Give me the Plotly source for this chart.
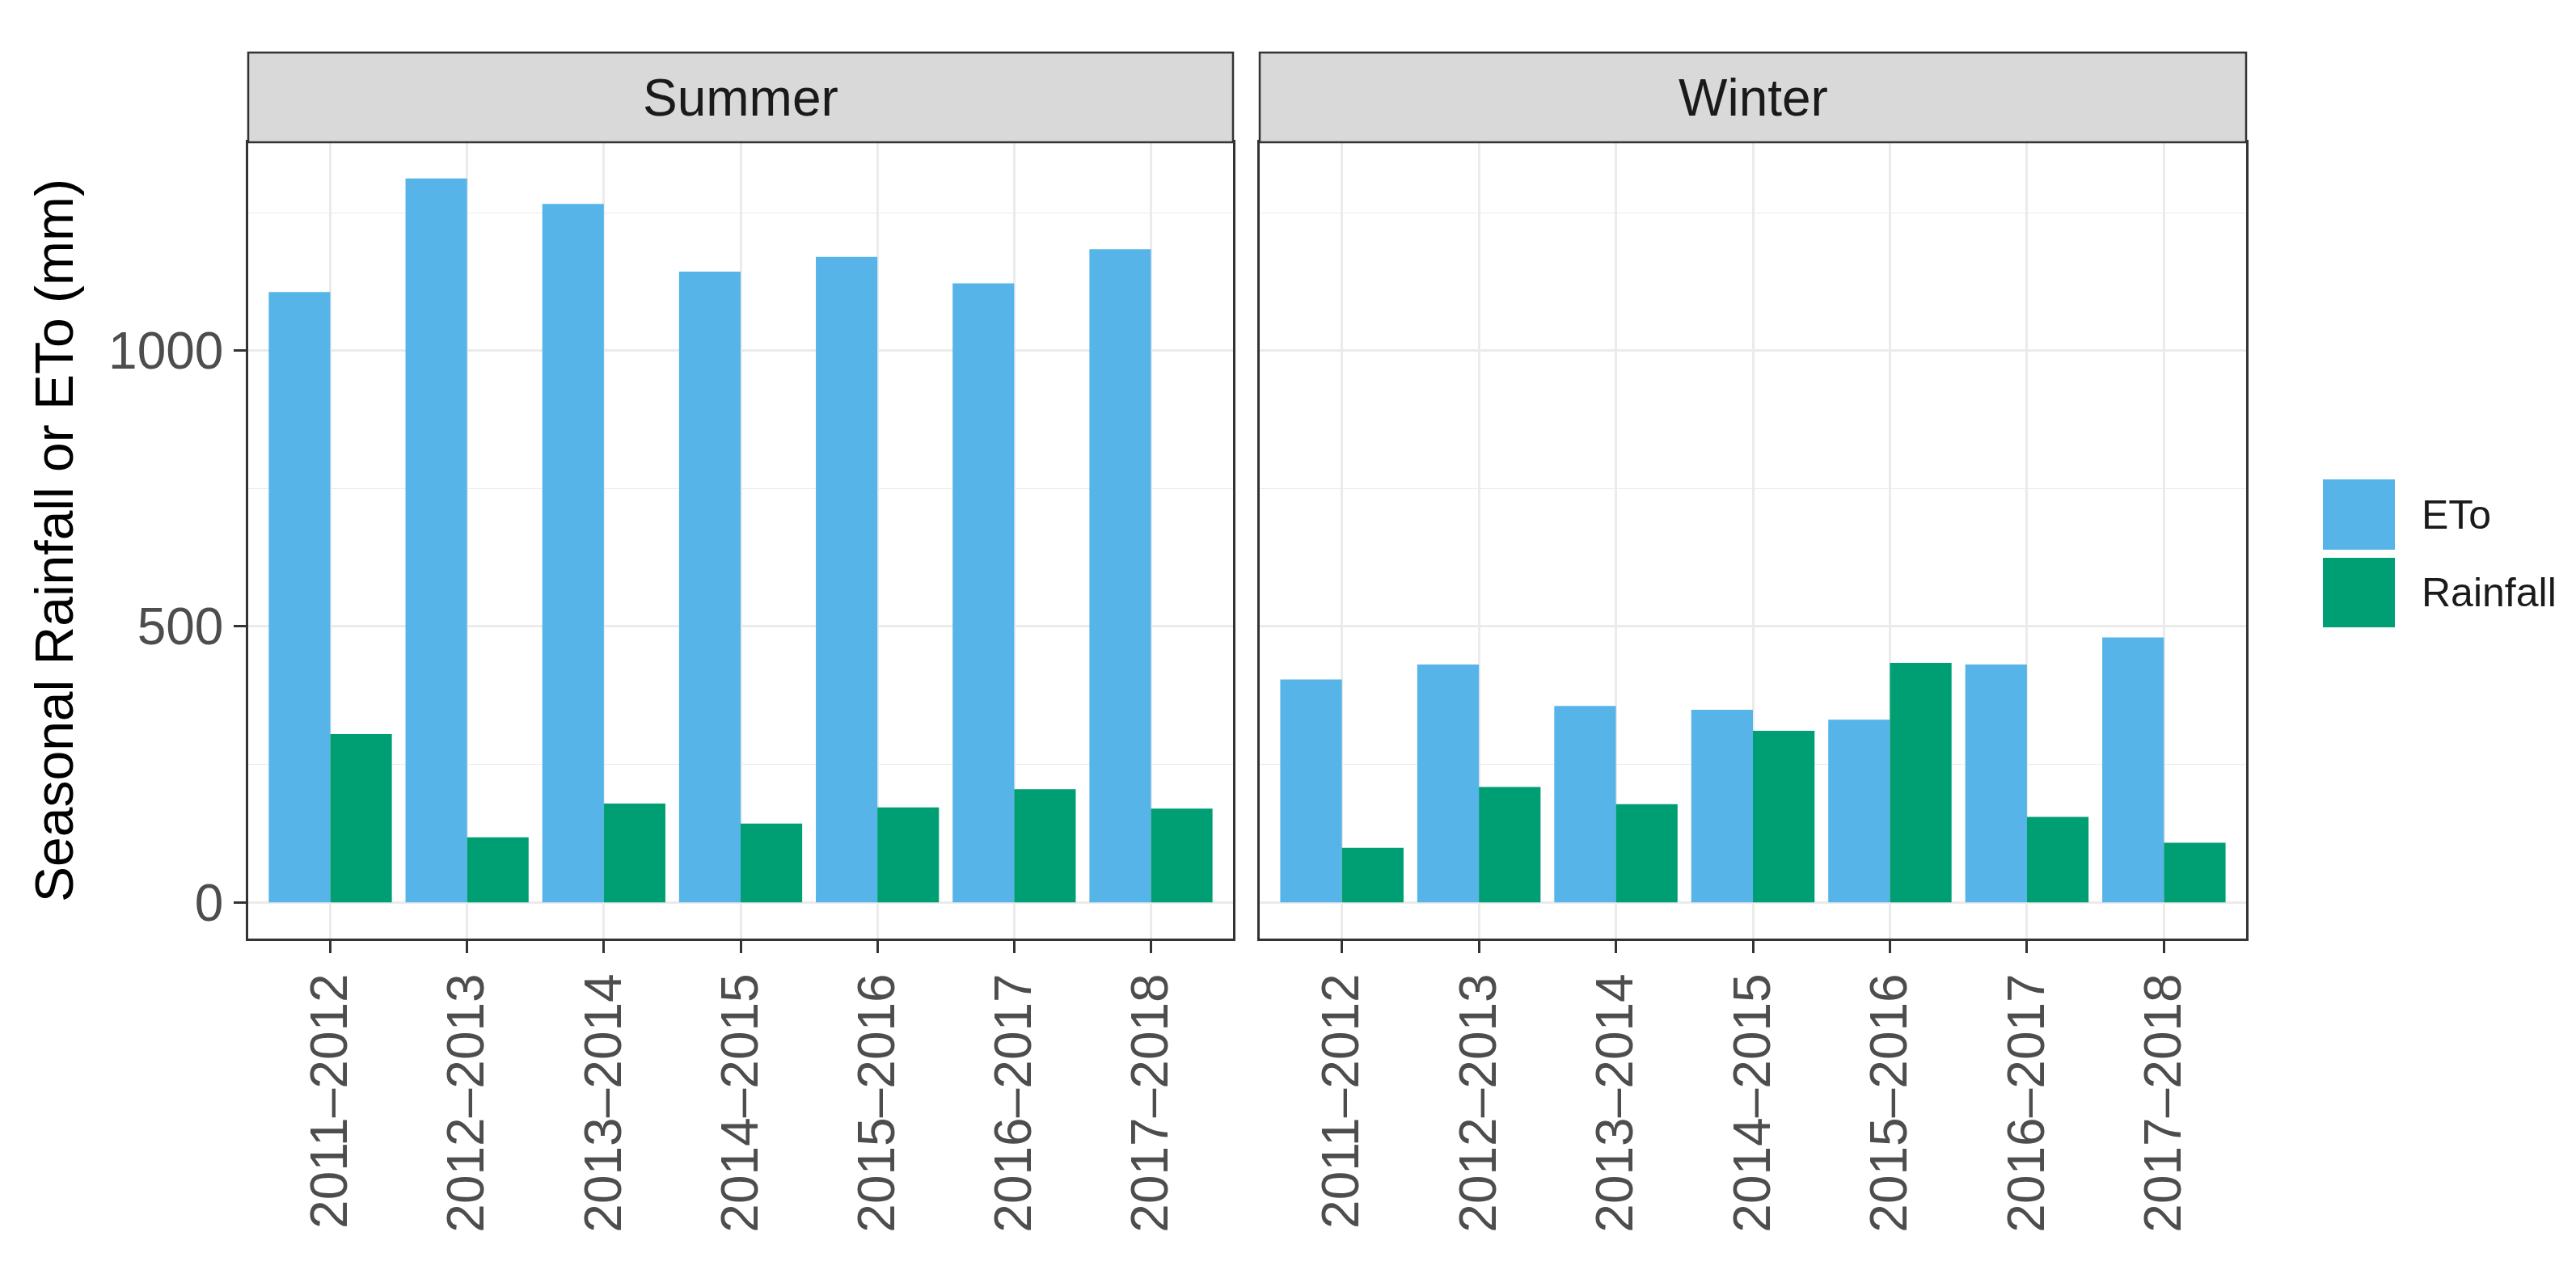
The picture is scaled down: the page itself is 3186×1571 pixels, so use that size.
import plotly.graph_objects as go

seasons = ["2011–2012", "2012–2013", "2013–2014", "2014–2015",
           "2015–2016", "2016–2017", "2017–2018"]
summer_eto = [1106, 1312, 1266, 1143, 1170, 1122, 1184]
summer_rain = [305, 118, 179, 143, 172, 205, 170]
winter_eto = [404, 431, 356, 349, 331, 431, 480]
winter_rain = [99, 209, 178, 311, 434, 155, 108]
panels = ["Summer", "Winter"]
series_names = ["ETo", "Rainfall"]
colors = {"ETo": "#56B4E9", "Rainfall": "#009E73"}

W, H = 3186, 1571
L, R, T, B = 299, 2770, 168, 1153
FONT = "Arial, Liberation Sans, sans-serif"

fig = go.Figure()
data = {
    ("Summer", "ETo"): summer_eto, ("Summer", "Rainfall"): summer_rain,
    ("Winter", "ETo"): winter_eto, ("Winter", "Rainfall"): winter_rain,
}
for i, p in enumerate(panels):
    ax = "" if i == 0 else "2"
    for s in series_names:
        fig.add_trace(go.Bar(
            x=seasons, y=data[(p, s)], name=s, legendgroup=s,
            showlegend=False, marker_color=colors[s], marker_line_width=0,
            xaxis="x" + ax, yaxis="y" + ax,
        ))

pw = R - L
ph = B - T
d1 = [0, (1517 - L) / pw]
d2 = [(1550 - L) / pw, 1]

grid = "#ebebeb"
line = "#333333"
common_x = dict(
    type="category", range=[-0.6, 6.6], showgrid=True, gridcolor=grid, gridwidth=2.5,
    showline=True, mirror=True, linecolor=line, linewidth=2.5,
    ticks="outside", ticklen=15, tickwidth=2.5, tickcolor=line,
    tickangle=-90, tickfont=dict(family=FONT, size=64, color="#4d4d4d"),
    zeroline=False,
)
common_y = dict(
    range=[-65.6, 1377.6], dtick=500, tick0=0, showgrid=True, gridcolor=grid,
    gridwidth=2.5, zeroline=False, showline=True, mirror=True, linecolor=line,
    linewidth=2.5,
    minor=dict(dtick=250, tick0=0, showgrid=True, gridcolor=grid, gridwidth=1.2),
)
fig.update_layout(
    width=W, height=H,
    margin=dict(l=L, r=W - R, t=T, b=H - B, autoexpand=False),
    paper_bgcolor="white", plot_bgcolor="white",
    barmode="group", bargap=0.1, bargroupgap=0,
    showlegend=False,
    xaxis=dict(domain=d1, anchor="y", **common_x),
    xaxis2=dict(domain=d2, anchor="y2", **common_x),
    yaxis=dict(domain=[0, 1], anchor="x", ticks="outside", ticklen=15,
               tickwidth=2.5, tickcolor=line,
               tickfont=dict(family=FONT, size=64, color="#4d4d4d"),
               title=dict(text="Seasonal Rainfall or ETo (mm)", standoff=22,
                          font=dict(family=FONT, size=66, color="black")),
               **common_y),
    yaxis2=dict(domain=[0, 1], anchor="x2", matches="y", showticklabels=False,
                ticks="", **common_y),
    font=dict(family=FONT),
)

# facet strips
strip_top = 1 + (T - 57) / ph
for p, d in zip(panels, [d1, d2]):
    fig.add_shape(type="rect", xref="paper", yref="paper",
                  x0=d[0], x1=d[1], y0=1, y1=strip_top,
                  fillcolor="#d9d9d9", line=dict(color=line, width=2.5), layer="above")
    fig.add_annotation(text=p, xref="paper", yref="paper",
                       x=(d[0] + d[1]) / 2, y=(1 + strip_top) / 2,
                       showarrow=False, xanchor="center", yanchor="middle",
                       font=dict(family=FONT, size=64, color="#1a1a1a"))

# legend keys
def px_x(v):
    return (v - L) / pw

def px_y(v):
    return (B - v) / ph

keys = [(585, 672), (682, 768)]
for s, (y0, y1) in zip(series_names, keys):
    fig.add_shape(type="rect", xref="paper", yref="paper",
                  x0=px_x(2865), x1=px_x(2954), y0=px_y(y1), y1=px_y(y0),
                  fillcolor=colors[s], line=dict(width=0))
    fig.add_annotation(text=s, xref="paper", yref="paper",
                       x=px_x(2985), y=px_y((y0 + y1) / 2),
                       showarrow=False, xanchor="left", yanchor="middle",
                       font=dict(family=FONT, size=50, color="#1a1a1a"))

fig.write_html("out.html")
